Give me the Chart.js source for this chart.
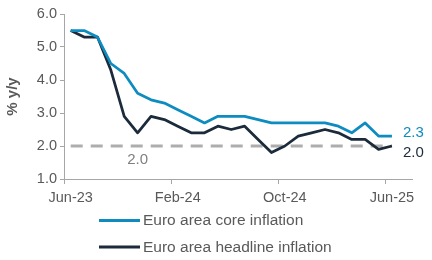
<!DOCTYPE html>
<html><head><meta charset="utf-8">
<script src="https://cdn.jsdelivr.net/npm/chart.js@4.4.1/dist/chart.umd.min.js"></script>
<style>html,body{margin:0;padding:0;background:#fff;}</style>
</head><body>
<canvas id="c" width="432" height="260"></canvas>
<script>
const categories = ['Jun-23','Jul-23','Aug-23','Sep-23','Oct-23','Nov-23','Dec-23','Jan-24','Feb-24','Mar-24','Apr-24','May-24','Jun-24','Jul-24','Aug-24','Sep-24','Oct-24','Nov-24','Dec-24','Jan-25','Feb-25','Mar-25','Apr-25','May-25','Jun-25','Jul-25'];
const coreInflation = [5.5,5.5,5.3,4.5,4.2,3.6,3.4,3.3,3.1,2.9,2.7,2.9,2.9,2.9,2.8,2.7,2.7,2.7,2.7,2.7,2.6,2.4,2.7,2.3,2.3,null];
const headlineInflation = [5.5,5.3,5.3,4.3,2.9,2.4,2.9,2.8,2.6,2.4,2.4,2.6,2.5,2.6,2.2,1.8,2.0,2.3,2.4,2.5,2.4,2.2,2.2,1.9,2.0,null];
const targetLine = [{x:'Jun-23', y:2.0}, {x:'Jun-25', y:2.0}];
const targetLabel = '2.0';
const targetLabelAt = 'Nov-23';
const seriesNames = ['Euro area core inflation', 'Euro area headline inflation'];
const yAxisTitle = '% y/y';

const CORE = '#0E8CC0', HEAD = '#1B2B3B', GREY = '#595959', AXIS = '#A6A6A6', DASH = '#ADADAD';
const FONT = '"Liberation Sans", Arial, sans-serif';
Chart.defaults.font.family = FONT;

function lastIndex(arr){ for (let i = arr.length-1; i >= 0; i--) if (arr[i] !== null) return i; return -1; }

const labelsPlugin = {
  id: 'labelsPlugin',
  afterDraw(chart) {
    const ctx = chart.ctx, xs = chart.scales.x, ys = chart.scales.y;
    ctx.save();
    ctx.font = '15px ' + FONT;
    ctx.textBaseline = 'middle';
    ctx.textAlign = 'left';
    const ic = lastIndex(coreInflation), ih = lastIndex(headlineInflation);
    ctx.fillStyle = CORE;
    ctx.fillText(coreInflation[ic].toFixed(1), xs.getPixelForValue(ic) + 11, ys.getPixelForValue(coreInflation[ic]) - 3.6);
    ctx.fillStyle = HEAD;
    ctx.fillText(headlineInflation[ih].toFixed(1), xs.getPixelForValue(ih) + 11, ys.getPixelForValue(headlineInflation[ih]) + 6.5);
    ctx.fillStyle = '#7F7F7F';
    ctx.textAlign = 'center';
    ctx.fillText(targetLabel, xs.getPixelForValue(categories.indexOf(targetLabelAt)), ys.getPixelForValue(targetLine[0].y) + 14);
    // legend
    const colors = [CORE, HEAD];
    const base = chart.chartArea.bottom;
    ctx.font = '15.5px ' + FONT;
    ctx.textAlign = 'left';
    for (let i = 0; i < seriesNames.length; i++) {
      const y = base + 41.5 + i * 26.5;
      ctx.strokeStyle = colors[i];
      ctx.lineWidth = 3;
      ctx.beginPath(); ctx.moveTo(99, y); ctx.lineTo(140, y); ctx.stroke();
      ctx.fillStyle = GREY;
      ctx.fillText(seriesNames[i], 143, y + 0.5);
    }
    ctx.restore();
  }
};

new Chart(document.getElementById('c'), {
  type: 'line',
  data: {
    labels: categories,
    datasets: [
      { label: seriesNames[0], data: coreInflation, borderColor: CORE, borderWidth: 2.75, pointRadius: 0, tension: 0, borderJoinStyle: 'round', fill: false },
      { label: seriesNames[1], data: headlineInflation, borderColor: HEAD, borderWidth: 2.75, pointRadius: 0, tension: 0, borderJoinStyle: 'round', fill: false },
      { label: 'target', data: targetLine, borderColor: DASH, borderWidth: 3, borderDash: [12, 8], pointRadius: 0, fill: false }
    ]
  },
  options: {
    responsive: false,
    animation: false,
    layout: { padding: { left: 0, right: 20, top: 14, bottom: 57 } },
    plugins: { legend: { display: false }, tooltip: { enabled: false } },
    scales: {
      x: {
        type: 'category',
        offset: true,
        afterFit(s) { s.height = 24; },
        grid: { offset: true, drawOnChartArea: false, drawTicks: true, tickLength: 5,
          color: c => (c.index % 8 === 0 ? AXIS : 'rgba(0,0,0,0)') },
        border: { display: true, color: AXIS, width: 1 },
        ticks: { autoSkip: false, maxRotation: 0, minRotation: 0, padding: 5, color: GREY, font: { size: 14.5 },
          callback: (v, i) => (i % 8 === 0 ? categories[i] : '') }
      },
      y: {
        min: 1, max: 6,
        afterFit(s) { s.width = 64; },
        grid: { drawOnChartArea: false, drawTicks: true, tickLength: 4, color: AXIS },
        border: { display: true, color: AXIS, width: 1 },
        ticks: { stepSize: 1, padding: 3, color: GREY, font: { size: 14.5 }, callback: v => v.toFixed(1) },
        title: { display: true, text: yAxisTitle, color: GREY, font: { size: 15, weight: 'bold' }, padding: { top: 4, bottom: 0 } }
      }
    }
  },
  plugins: [labelsPlugin]
});
</script>
</body></html>
